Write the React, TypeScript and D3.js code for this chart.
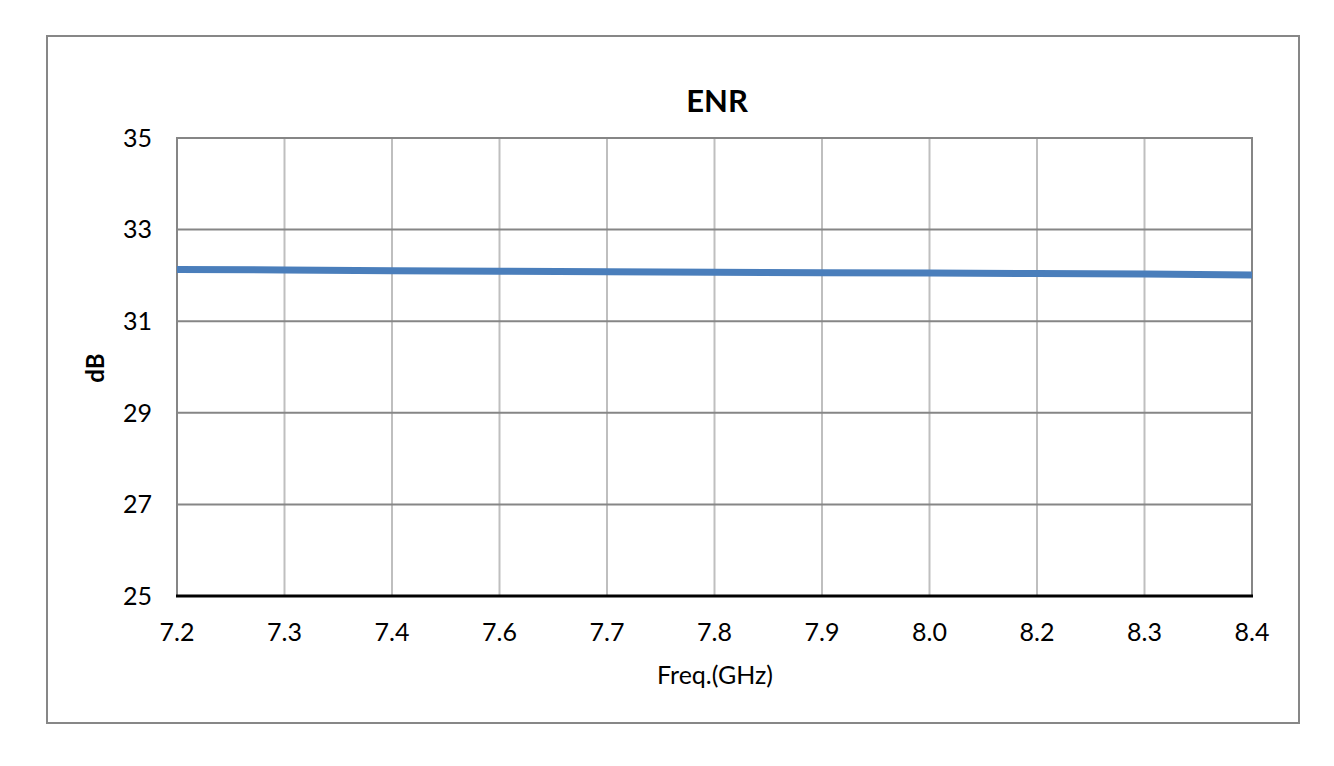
import React, { useEffect, useRef } from 'react';
import * as d3 from 'd3';

const freqLabels = ['7.2', '7.3', '7.4', '7.6', '7.7', '7.8', '7.9', '8.0', '8.2', '8.3', '8.4'];
const enrValues = [32.13, 32.12, 32.1, 32.09, 32.08, 32.07, 32.06, 32.05, 32.04, 32.03, 32.01];
const yTicks = [25, 27, 29, 31, 33, 35];

const FONT = 'Lato, "Open Sans", sans-serif';

const App: React.FC = () => {
  const svgRef = useRef<SVGSVGElement>(null);

  useEffect(() => {
    if (!svgRef.current) return;
    const svg = d3.select(svgRef.current);
    svg.selectAll('*').remove();

    const left = 177, right = 1252, top = 138, bottom = 596;

    const x = d3.scalePoint<string>().domain(freqLabels).range([left, right]);
    const y = d3.scaleLinear().domain([25, 35]).range([bottom, top]);

    // outer chart frame
    svg.append('rect')
      .attr('x', 47).attr('y', 36)
      .attr('width', 1252).attr('height', 687)
      .attr('fill', '#fff')
      .attr('stroke', '#878787')
      .attr('stroke-width', 2);

    const g = svg.append('g');

    // vertical gridlines
    g.selectAll('line.vgrid')
      .data(freqLabels.slice(1, -1))
      .join('line')
      .attr('class', 'vgrid')
      .attr('x1', d => x(d)!).attr('x2', d => x(d)!)
      .attr('y1', top).attr('y2', bottom)
      .attr('stroke', '#bfbfbf')
      .attr('stroke-width', 2);

    // horizontal gridlines
    g.selectAll('line.hgrid')
      .data(yTicks.slice(1))
      .join('line')
      .attr('class', 'hgrid')
      .attr('x1', left).attr('x2', right)
      .attr('y1', d => y(d)).attr('y2', d => y(d))
      .attr('stroke', '#868686')
      .attr('stroke-width', 2);

    // left / right borders
    [left, right].forEach(xx => {
      g.append('line')
        .attr('x1', xx).attr('x2', xx)
        .attr('y1', top - 1).attr('y2', bottom)
        .attr('stroke', '#868686')
        .attr('stroke-width', 2);
    });

    // bottom axis line
    g.append('line')
      .attr('x1', left - 1).attr('x2', right + 1)
      .attr('y1', bottom).attr('y2', bottom)
      .attr('stroke', '#000')
      .attr('stroke-width', 3);

    // series
    const line = d3.line<number>()
      .x((_, i) => x(freqLabels[i])!)
      .y(d => y(d));

    g.append('path')
      .datum(enrValues)
      .attr('d', line)
      .attr('fill', 'none')
      .attr('stroke', '#4a7ebb')
      .attr('stroke-width', 7);

    // y tick labels
    g.selectAll('text.ylab')
      .data(yTicks)
      .join('text')
      .attr('class', 'ylab')
      .attr('x', 152)
      .attr('y', d => y(d))
      .attr('dy', '0.35em')
      .attr('text-anchor', 'end')
      .style('font-family', FONT)
      .style('font-size', '25px')
      .text(d => d);

    // x tick labels
    g.selectAll('text.xlab')
      .data(freqLabels)
      .join('text')
      .attr('class', 'xlab')
      .attr('x', d => x(d)!)
      .attr('y', 632)
      .attr('dy', '0.35em')
      .attr('text-anchor', 'middle')
      .style('font-family', FONT)
      .style('font-size', '25px')
      .text(d => d);

    // title
    svg.append('text')
      .attr('x', 717).attr('y', 101)
      .attr('dy', '0.35em')
      .attr('text-anchor', 'middle')
      .style('font-family', FONT)
      .style('font-size', '31px')
      .style('font-weight', 'bold')
      .text('ENR');

    // axis titles
    svg.append('text')
      .attr('transform', 'translate(96,368) rotate(-90)')
      .attr('dy', '0.35em')
      .attr('text-anchor', 'middle')
      .style('font-family', FONT)
      .style('font-size', '24px')
      .style('font-weight', 'bold')
      .text('dB');

    svg.append('text')
      .attr('x', 715).attr('y', 675)
      .attr('dy', '0.35em')
      .attr('text-anchor', 'middle')
      .style('font-family', FONT)
      .style('font-size', '25px')
      .text('Freq.(GHz)');
  }, []);

  return (
    <div style={{ position: 'fixed', left: 0, top: 0, width: 1334, height: 766, background: '#fff' }}>
      <svg ref={svgRef} width={1334} height={766} style={{ display: 'block' }} />
    </div>
  );
};

export default App;
